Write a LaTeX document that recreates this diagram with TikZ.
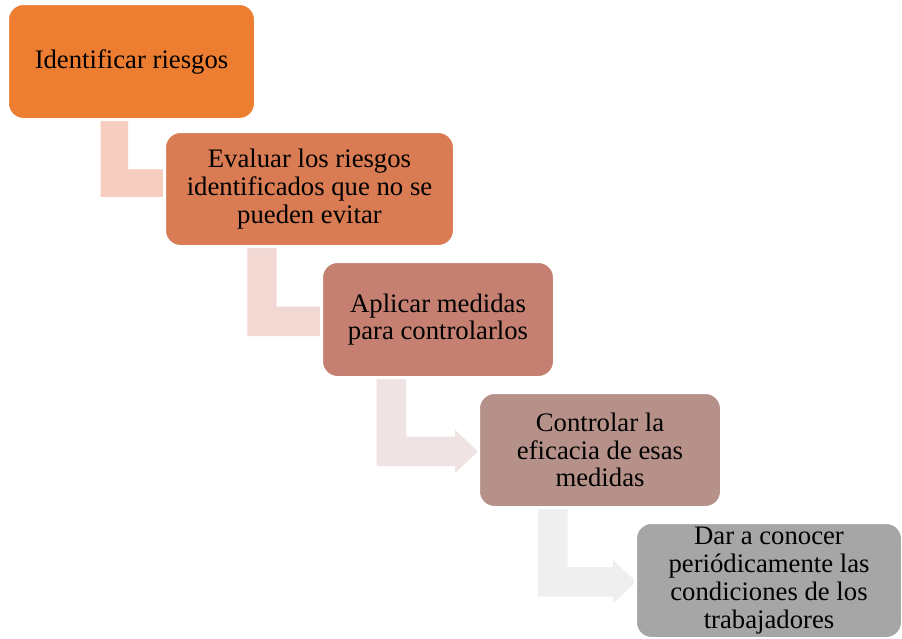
\documentclass[tikz,border=0pt]{standalone}
\usepackage{fontspec}
\setmainfont{Liberation Serif}
\usetikzlibrary{calc,backgrounds}

\definecolor{boxA}{HTML}{ED7D31}
\definecolor{boxB}{HTML}{D97B53}
\definecolor{boxC}{HTML}{C58071}
\definecolor{boxD}{HTML}{B69189}
\definecolor{boxE}{HTML}{A6A6A6}
\definecolor{bendA}{HTML}{F6CDBF}
\definecolor{bendB}{HTML}{F2D8D3}
\definecolor{bendC}{HTML}{EFE3E3}
\definecolor{bendD}{HTML}{EFEFEF}

\begin{document}
\begin{tikzpicture}[
        x=1pt, y=-1pt,
        stepbox/.style={draw=white, line width=3pt, rounded corners=16pt,
            align=center, inner sep=0pt, text=black,
            font=\fontsize{26.7}{27.8}\selectfont},
    ]
    \useasboundingbox (0,0) rectangle (902,638);

    % Define the steps.
    \node[stepbox, fill=boxA, minimum width=248, minimum height=116]
        (identificar) at (131.5,61.5) {Identificar riesgos};
    \node[stepbox, fill=boxB, minimum width=290, minimum height=115]
        (evaluar) at (309.5,189) {Evaluar los riesgos\\identificados que no se\\pueden evitar};
    \node[stepbox, fill=boxC, minimum width=233, minimum height=116]
        (aplicar) at (438,319.5) {Aplicar medidas\\para controlarlos};
    \node[stepbox, fill=boxD, minimum width=243, minimum height=115]
        (controlar) at (600,450) {Controlar la\\eficacia de esas\\medidas};
    \node[stepbox, fill=boxE, minimum width=267, minimum height=116]
        (conocer) at (769,580.5) {Dar a conocer\\periódicamente las\\condiciones de los\\trabajadores};

    % Bent arrows behind the steps.
    \begin{scope}[on background layer]
    \foreach \from/\xl/\t/\yb/\tip/\col in {
        identificar/100.7/27.5/169.3/192/bendA,
        evaluar/247.3/29.4/306.7/350/bendB,
        aplicar/376.7/29.5/436.7/478/bendC,
        controlar/538/29.5/567/636/bendD}
    {
        \fill[\col] let \p1 = (\from.south) in
            (\xl,\y1) -- (\xl+\t,\y1) -- (\xl+\t,\yb) -- (\tip-23,\yb)
            -- (\tip-23,\yb-7) -- (\tip,\yb+\t/2) -- (\tip-23,\yb+\t+7)
            -- (\tip-23,\yb+\t) -- (\xl,\yb+\t) -- cycle;
    }
    \end{scope}
\end{tikzpicture}
\end{document}
